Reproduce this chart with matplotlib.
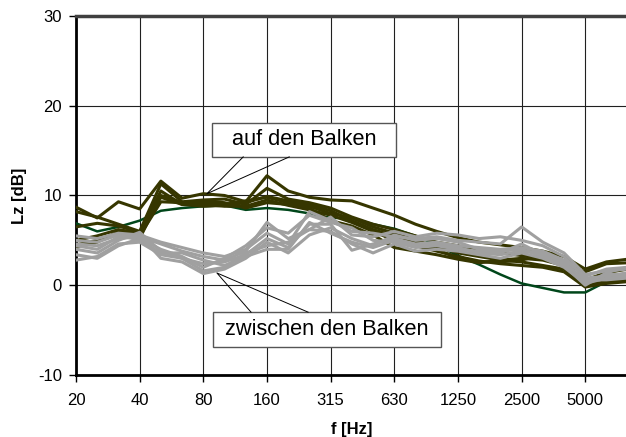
import matplotlib.pyplot as plt
import numpy as np
from matplotlib.patches import Rectangle

plt.rcParams['font.family'] = ['Liberation Sans', 'DejaVu Sans']
plt.rcParams['axes.unicode_minus'] = False

# Terzbänder 20 Hz ... 8000 Hz
freqs = ['20', '25', '31.5', '40', '50', '63', '80', '100', '125', '160', '200', '250',
         '315', '400', '500', '630', '800', '1000', '1250', '1600', '2000', '2500',
         '3150', '4000', '5000', '6300', '8000']
tick_labels = ['20', '40', '80', '160', '315', '630', '1250', '2500', '5000']

# Messungen auf den Balken
auf_1 = [8.7, 7.5, 9.3, 8.5, 11.6, 9.7, 10.2, 10.0, 9.3, 12.2, 10.5, 9.8, 9.5, 9.4, 8.6, 7.8,
         6.8, 6.0, 5.3, 4.8, 4.5, 4.2, 3.8, 3.2, 1.8, 2.6, 2.9]
auf_2 = [8.2, 7.6, 6.8, 6.0, 11.3, 9.3, 9.5, 9.6, 9.0, 10.8, 9.6, 9.2, 8.6, 7.6, 6.8, 6.2,
         5.5, 4.8, 4.4, 3.9, 3.6, 3.3, 3.0, 2.3, 1.5, 2.4, 2.5]
auf_3 = [5.0, 5.5, 6.2, 5.8, 10.5, 9.0, 9.2, 9.0, 9.4, 9.8, 9.2, 8.8, 8.0, 7.5, 6.5, 5.8,
         5.0, 4.3, 3.6, 3.2, 2.8, 2.6, 2.2, 1.8, 0.2, 0.8, 1.2]
auf_4 = [4.5, 5.0, 5.8, 5.2, 10.0, 9.2, 9.0, 8.8, 8.8, 9.5, 8.9, 8.4, 7.8, 7.0, 6.0, 5.0,
         4.4, 3.8, 3.2, 2.7, 2.4, 2.2, 2.0, 1.5, -0.2, 0.2, 0.4]
auf_5 = [4.2, 4.8, 6.0, 5.5, 9.3, 9.2, 9.4, 9.2, 8.6, 9.2, 9.0, 8.6, 7.2, 6.6, 5.6, 4.2,
         3.8, 3.4, 2.9, 2.5, 2.8, 3.0, 2.8, 2.2, 0.6, 1.4, 1.8]
auf_6 = [6.5, 6.9, 6.6, 5.9, 9.8, 9.0, 8.8, 8.9, 9.2, 9.9, 9.4, 9.0, 8.3, 7.2, 6.2, 5.5,
         4.8, 4.0, 3.0, 2.6, 2.6, 2.8, 3.4, 2.0, 0.0, 0.4, 0.6]
auf_green = [6.9, 6.0, 6.5, 7.2, 8.3, 8.6, 8.8, 8.9, 8.4, 8.6, 8.4, 8.0, 7.5, 7.5, 6.8, 6.3,
             5.5, 4.5, 3.3, 2.3, 1.2, 0.2, -0.3, -0.8, -0.8, 0.4, 0.4]

# Messungen zwischen den Balken
zw_1 = [5.5, 5.2, 5.8, 5.6, 4.8, 4.2, 3.6, 3.2, 4.0, 5.8, 4.6, 8.2, 7.2, 6.0, 5.8, 5.4,
        5.2, 5.4, 5.0, 4.8, 4.6, 6.5, 4.8, 3.6, 1.2, 1.6, 1.8]
zw_2 = [4.6, 4.4, 5.2, 5.4, 4.6, 3.8, 3.2, 2.8, 3.8, 7.0, 5.2, 6.2, 7.6, 5.6, 5.4, 6.0,
        5.4, 5.8, 5.6, 5.2, 5.4, 5.0, 4.4, 3.2, 0.8, 1.0, 1.4]
zw_3 = [4.0, 3.6, 5.0, 5.9, 3.8, 3.0, 2.4, 2.6, 3.4, 5.2, 4.2, 6.8, 6.8, 3.9, 4.6, 5.2,
        4.6, 4.8, 4.4, 4.2, 4.0, 4.2, 3.8, 2.8, 1.0, 1.8, 2.0]
zw_4 = [3.4, 3.0, 4.4, 5.2, 4.0, 3.2, 2.0, 3.0, 4.4, 6.4, 5.8, 7.8, 7.0, 6.4, 5.0, 4.8,
        4.2, 4.4, 4.0, 3.8, 3.6, 4.6, 3.4, 2.6, 0.4, 1.2, 1.2]
zw_5 = [2.8, 3.2, 4.6, 4.8, 3.4, 3.0, 1.6, 2.0, 3.6, 4.4, 4.8, 6.2, 6.0, 4.6, 3.6, 4.6,
        3.8, 4.0, 3.8, 3.4, 3.0, 3.6, 3.0, 2.0, 0.2, 0.8, 1.0]
zw_6 = [4.4, 4.0, 5.4, 5.6, 3.0, 2.6, 1.3, 1.8, 3.0, 4.8, 3.6, 5.6, 6.4, 5.2, 4.4, 5.6,
        5.0, 5.2, 4.8, 4.0, 3.8, 4.0, 3.2, 2.2, 0.0, 1.4, 2.0]
zw_7 = [5.0, 4.8, 5.6, 5.0, 3.6, 3.6, 2.8, 2.2, 3.2, 4.0, 4.0, 7.0, 5.8, 4.8, 4.2, 5.0,
        4.4, 4.6, 4.2, 3.6, 3.4, 3.8, 3.6, 2.4, 0.6, 0.6, 0.8]

OLIVE = '#363600'
GREEN = '#00461a'
GRAY = '#a0a0a0'


def main():
    fig = plt.figure(figsize=(6.26, 4.37), dpi=100)
    ax = fig.add_axes([0.1214, 0.1419, 0.8813, 0.8215])
    x = np.arange(len(freqs))

    ax.plot(x, auf_green, color=GREEN, lw=1.8, zorder=3)
    for y in [auf_1, auf_2, auf_3, auf_4, auf_5, auf_6]:
        ax.plot(x, y, color=OLIVE, lw=2.2, zorder=3)
    for y in [zw_1, zw_2, zw_3, zw_4, zw_5, zw_6, zw_7]:
        ax.plot(x, y, color=GRAY, lw=2.2, zorder=4)

    ax.set_xlim(0, len(freqs) - 1)
    ax.set_ylim(-10, 30)
    ax.set_xticks(x[::3])
    ax.set_xticklabels(tick_labels)
    ax.set_yticks([-10, 0, 10, 20, 30])
    ax.tick_params(direction='out', length=5, width=1, labelsize=12, pad=5)
    ax.tick_params(axis='x', pad=8)
    ax.grid(True, color='#202020', lw=0.8, zorder=1)
    ax.set_axisbelow(True)

    for side in ['left', 'bottom']:
        ax.spines[side].set_linewidth(2)
        ax.spines[side].set_color('black')
    ax.spines['top'].set_linewidth(2.5)
    ax.spines['top'].set_color('#404040')
    ax.spines['right'].set_visible(False)

    ax.set_xlabel('f [Hz]', fontsize=12, fontweight='bold', labelpad=10)
    ax.set_ylabel('Lz [dB]', fontsize=12, fontweight='bold', labelpad=8)

    # Beschriftungen mit Zeigern
    callouts = [
        ('auf den Balken', (6.42, 14.3), 8.68, 3.8, (7.88, 10.05), (6.17, 10.2)),
        ('zwischen den Balken', (6.46, -6.9), 10.74, 3.9, (8.25, 10.94), (6.64, 1.37)),
    ]
    for label, (bx, by), bw, bh, (t1, t2), (px, py) in callouts:
        ax.add_patch(Rectangle((bx, by), bw, bh, facecolor='white', edgecolor='#555555',
                               lw=1.0, zorder=6))
        tail_y = by if py < by else by + bh
        ax.plot([t1, px, t2], [tail_y, py, tail_y], color='black', lw=0.7, zorder=6)
        ax.text(bx + bw / 2, by + bh / 2, label, ha='center', va='center',
                fontsize=15.7, zorder=7)

    fig.savefig('out.png', dpi=100)


if __name__ == "__main__":
    main()
